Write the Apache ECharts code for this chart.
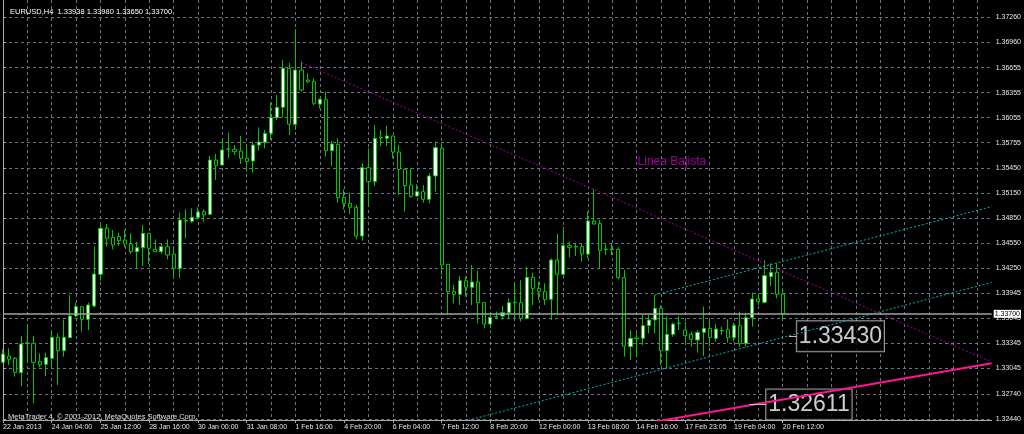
<!DOCTYPE html>
<html>
<head>
<meta charset="utf-8">
<script src="https://cdn.jsdelivr.net/npm/echarts@6/dist/echarts.min.js"></script>
<style>
html,body{margin:0;padding:0;background:#000;}
#chart{width:1024px;height:434px;}
</style>
</head>
<body>
<div id="chart"></div>
<script>
const symbol = 'EURUSD';
const timeframe = 'H4';

const timeLabels = ['22 Jan 2013','24 Jan 04:00','25 Jan 12:00','28 Jan 16:00','30 Jan 00:00','31 Jan 08:00',
  '1 Feb 16:00','4 Feb 20:00','6 Feb 04:00','7 Feb 12:00','8 Feb 20:00','12 Feb 00:00','13 Feb 08:00',
  '14 Feb 16:00','17 Feb 23:05','19 Feb 04:00','20 Feb 12:00'];

const priceTicks = [1.37260,1.36960,1.36655,1.36355,1.36055,1.35755,1.35450,1.35150,1.34850,
  1.34550,1.34250,1.33945,1.33645,1.33345,1.33045,1.32740,1.32440];

const open = [1.33118,1.33194,1.33166,1.32994,1.33344,1.33346,1.33126,1.33094,1.33166,1.33418,
1.33258,1.33414,1.33674,1.33786,1.33634,1.33794,1.34174,1.34726,1.34618,1.34626,
1.34586,1.34538,1.34446,1.34494,1.34666,1.34474,1.34446,1.34506,1.34418,1.34246,
1.34814,1.34810,1.34858,1.34926,1.34894,1.35546,1.35486,1.35674,1.35674,1.35654,
1.35566,1.35534,1.35726,1.35758,1.35866,1.36054,1.36178,1.36646,1.35974,1.36626,
1.36506,1.36486,1.36218,1.36274,1.35658,1.35734,1.35098,1.35026,1.34978,1.34634,
1.35454,1.35286,1.35810,1.35806,1.35834,1.35642,1.35434,1.35246,1.35114,1.35166,
1.35074,1.35354,1.35686,1.34294,1.33966,1.33934,1.34098,1.34018,1.34082,1.33834,
1.33578,1.33662,1.33674,1.33714,1.33834,1.33834,1.33646,1.34138,1.34006,1.33966,
1.33874,1.34346,1.34174,1.34518,1.34503,1.34506,1.34418,1.34814,1.34786,1.34472,
1.34470,1.34474,1.34134,1.33306,1.33404,1.33406,1.33558,1.33626,1.33766,1.33258,
1.33454,1.33584,1.33506,1.33454,1.33386,1.33478,1.33526,1.33406,1.33495,1.33514,
1.33418,1.33558,1.33346,1.33654,1.33878,1.33838,1.34146,1.34198,1.33938];

const high = [1.33274,1.33286,1.33182,1.33434,1.33546,1.33434,1.33226,1.33234,1.33486,1.33466,
1.33634,1.33926,1.33834,1.33790,1.33834,1.34506,1.34778,1.34778,1.34706,1.34674,
1.34706,1.34666,1.34566,1.34766,1.34670,1.34594,1.34538,1.34594,1.34486,1.34914,
1.34954,1.34966,1.34978,1.34954,1.35594,1.35618,1.35786,1.35874,1.35726,1.35834,
1.35706,1.35766,1.35938,1.35906,1.36234,1.36326,1.36746,1.36714,1.37114,1.36726,
1.36586,1.36526,1.36284,1.36366,1.35778,1.35806,1.35194,1.35154,1.35006,1.35506,
1.35686,1.35966,1.35906,1.35954,1.35840,1.35726,1.35446,1.35446,1.35254,1.35246,
1.35386,1.35766,1.35746,1.34298,1.34046,1.34154,1.34146,1.34286,1.34218,1.33836,
1.33706,1.33726,1.33794,1.33886,1.34046,1.34106,1.34266,1.34194,1.34086,1.34066,
1.34366,1.34658,1.34746,1.34566,1.34546,1.34538,1.34926,1.35194,1.34826,1.34538,
1.34538,1.34498,1.34226,1.33506,1.33466,1.33686,1.33686,1.33926,1.33806,1.33666,
1.33594,1.33674,1.33606,1.33486,1.33506,1.33786,1.33626,1.33578,1.33546,1.33634,
1.33594,1.33726,1.33714,1.33954,1.33946,1.34346,1.34306,1.34306,1.33980];

const low = [1.33106,1.33086,1.32946,1.32834,1.33146,1.32626,1.33058,1.32954,1.33046,1.32846,
1.33186,1.33410,1.33666,1.33486,1.33506,1.33778,1.34098,1.34506,1.34474,1.34514,
1.34498,1.34418,1.34250,1.34274,1.34298,1.34440,1.34418,1.34354,1.34126,1.34126,
1.34606,1.34794,1.34834,1.34806,1.34886,1.35306,1.35474,1.35566,1.35606,1.35498,
1.35406,1.35394,1.35658,1.35686,1.35786,1.36026,1.36058,1.35846,1.35906,1.36366,
1.36466,1.36206,1.36166,1.35586,1.35474,1.35034,1.34954,1.34898,1.34594,1.34578,
1.35006,1.35234,1.35714,1.35714,1.35566,1.35126,1.34926,1.35094,1.35106,1.35034,
1.35026,1.35166,1.34166,1.33686,1.33826,1.33806,1.33906,1.33806,1.33586,1.33526,
1.33526,1.33634,1.33634,1.33646,1.33646,1.33606,1.33634,1.33806,1.33866,1.33806,
1.33626,1.33686,1.34154,1.34378,1.34394,1.34326,1.34366,1.34772,1.34246,1.34406,
1.34406,1.34114,1.33186,1.33146,1.33186,1.33326,1.33466,1.33466,1.33086,1.33046,
1.33426,1.33506,1.33346,1.33306,1.33234,1.33194,1.33306,1.33366,1.33446,1.33354,
1.33366,1.33306,1.33306,1.33546,1.33806,1.33826,1.34034,1.33886,1.33650];

const close = [1.33218,1.33154,1.32998,1.33338,1.33352,1.33118,1.33086,1.33174,1.33418,1.33258,
1.33418,1.33674,1.33786,1.33634,1.33806,1.34178,1.34726,1.34606,1.34526,1.34578,
1.34538,1.34446,1.34494,1.34666,1.34486,1.34446,1.34506,1.34406,1.34246,1.34826,
1.34822,1.34858,1.34922,1.34886,1.35546,1.35478,1.35666,1.35678,1.35646,1.35566,
1.35530,1.35726,1.35762,1.35866,1.36054,1.36178,1.36646,1.35974,1.36626,1.36386,
1.36486,1.36226,1.36274,1.35658,1.35738,1.35094,1.35026,1.34978,1.34634,1.35454,
1.35286,1.35806,1.35816,1.35834,1.35642,1.35434,1.35238,1.35106,1.35166,1.35074,
1.35354,1.35694,1.34286,1.33966,1.33934,1.34098,1.34018,1.34082,1.33834,1.33578,
1.33658,1.33668,1.33714,1.33834,1.33838,1.33646,1.34138,1.34006,1.33966,1.33874,
1.34346,1.34174,1.34518,1.34498,1.34508,1.34418,1.34814,1.34778,1.34458,1.34477,
1.34476,1.34136,1.33314,1.33406,1.33409,1.33558,1.33626,1.33766,1.33258,1.33454,
1.33578,1.33589,1.33438,1.33394,1.33478,1.33526,1.33418,1.33518,1.33500,1.33418,
1.33558,1.33346,1.33654,1.33878,1.33846,1.34158,1.34198,1.33934,1.33700];

// trend lines: [barIndex, price]
const bearLine = [[49, 1.36714], [162.3, 1.33122]];
const channelUpper = [[107, 1.33926], [162.3, 1.34987]];
const channelLower = [[70, 1.32300], [162.3, 1.34077]];
const supportLine = [[100, 1.32316], [162.3, 1.33107]];
const bearLineText = [[104, 1.35520]];
const priceLabelBars = [129, 122.5];
const priceLabelValues = [1.33430, 1.32611];

const lastBars = 162.3;
const FONT = 'Liberation Sans, Arial, sans-serif';

const candles = open.map((o, i) => [i, o, close[i], low[i], high[i]]);
const labelTickBars = timeLabels.map((_, k) => k * 8);
const gridTickBars = [];
for (let b = 0; b <= 160; b += 4) gridTickBars.push(b);
const n = open.length - 1;
const gridStyle = {color: '#6b7682', type: [3, 3], width: 1};

const chart = echarts.init(document.getElementById('chart'), null, {renderer: 'canvas'});
chart.setOption({
  backgroundColor: '#000000',
  animation: false,
  title: [
    {
      text: symbol + ',' + timeframe + '  ' + open[n].toFixed(5) + ' ' + high[n].toFixed(5) + ' ' +
            low[n].toFixed(5) + ' ' + close[n].toFixed(5),
      left: 5, top: 3,
      textStyle: {color: '#ffffff', fontSize: 7.5, fontWeight: 'normal', fontFamily: FONT}
    },
    {
      text: 'MetaTrader 4, \u00a9 2001-2012, MetaQuotes Software Corp.',
      left: 3, top: 408,
      textStyle: {color: '#e0e0e0', fontSize: 7.5, fontWeight: 'normal', fontFamily: FONT}
    }
  ],
  grid: {left: 2, top: 0, right: 31.3, bottom: 14, containLabel: false},
  xAxis: [
    {
      type: 'value', min: 0, max: lastBars, interval: 4, position: 'bottom',
      axisLine: {show: true, lineStyle: {color: '#a9a9a9', width: 1}},
      axisTick: {show: false, customValues: gridTickBars},
      axisLabel: {show: false},
      splitLine: {show: true, lineStyle: gridStyle}
    },
    {
      type: 'value', min: 0, max: lastBars, position: 'bottom',
      axisLine: {show: false},
      axisTick: {show: true, length: 3, customValues: labelTickBars, lineStyle: {color: '#a9a9a9'}},
      axisLabel: {
        show: true, customValues: labelTickBars, align: 'left', margin: 4,
        color: '#e8e8e8', fontSize: 7, fontFamily: FONT,
        formatter: v => timeLabels[Math.round(v / 8)] || ''
      },
      splitLine: {show: false}
    }
  ],
  yAxis: [
    {
      type: 'value', position: 'right', min: 1.32426, max: 1.37466, scale: true,
      axisLine: {show: true, lineStyle: {color: '#a9a9a9', width: 1}},
      axisTick: {show: true, length: 3, customValues: priceTicks, lineStyle: {color: '#a9a9a9'}},
      axisLabel: {
        show: true, customValues: priceTicks, margin: 4, color: '#e8e8e8', fontSize: 7, fontFamily: FONT,
        formatter: v => v.toFixed(5)
      },
      splitLine: {show: true, lineStyle: gridStyle}
    },
    {
      type: 'value', position: 'left', min: 1.32426, max: 1.37466,
      axisLine: {show: true, onZero: false, lineStyle: {color: '#a9a9a9', width: 1}},
      axisTick: {show: false}, axisLabel: {show: false}, splitLine: {show: false}
    }
  ],
  series: [
    {
      type: 'candlestick',
      xAxisIndex: 0, yAxisIndex: 0,
      data: candles,
      encode: {x: 0, y: [1, 2, 3, 4]},
      barWidth: 3.6,
      clip: false,
      silent: true,
      itemStyle: {color: '#ffffff', color0: '#000000', borderColor: '#00c800', borderColor0: '#00c800', borderWidth: 1},
      emphasis: {disabled: true}
    },
    {
      type: 'line', data: bearLine, symbol: 'none', silent: true,
      lineStyle: {color: '#a000a0', width: 1, type: [2, 2]},
      markLine: {
        silent: true, symbol: ['none', 'none'], animation: false, precision: 5,
        data: [{yAxis: close[n]}],
        lineStyle: {color: '#a0a0a0', width: 1.5, type: 'solid'},
        label: {
          show: true, position: 'end', distance: 2,
          formatter: p => Number(p.value).toFixed(5),
          color: '#000000', backgroundColor: '#ffffff', fontSize: 7, fontFamily: FONT,
          padding: [1, 1, 0, 1]
        }
      }
    },
    {
      type: 'line', data: channelUpper, symbol: 'none', silent: true,
      lineStyle: {color: '#00b4b4', width: 1, type: [2, 2]}
    },
    {
      type: 'line', data: channelLower, symbol: 'none', silent: true,
      lineStyle: {color: '#00b4b4', width: 1, type: [2, 2]}
    },
    {
      type: 'line', data: supportLine, symbol: 'none', silent: true,
      lineStyle: {color: '#ff1493', width: 2, type: 'solid'}
    },
    {
      type: 'scatter', data: bearLineText, symbolSize: 0, silent: true,
      label: {
        show: true, position: 'right', distance: 1, formatter: 'Linea Bajista',
        color: '#c800c8', fontSize: 12, fontFamily: FONT
      }
    },
    {
      type: 'scatter', symbolSize: 0, silent: true,
      data: priceLabelBars.map((b, k) => ({value: [b, priceLabelValues[k]], label: {distance: k === 0 ? 8 : 17}})),
      label: {
        show: true, position: 'right',
        formatter: p => p.value[1].toFixed(5),
        color: '#ffffff', backgroundColor: '#000000', borderColor: '#c0c0c0', borderWidth: 1,
        fontSize: 23, lineHeight: 24, padding: [3, 2, 3, 2], fontFamily: FONT
      },
      markLine: {
        silent: true, symbol: ['none', 'none'], animation: false, label: {show: false}, precision: 5,
        lineStyle: {color: '#c0c0c0', width: 1, type: 'solid'},
        data: priceLabelBars.map((b, k) => [
          {coord: [b, priceLabelValues[k]]},
          {coord: [b + (k === 0 ? 1.3 : 2.8), priceLabelValues[k]]}
        ])
      }
    }
  ]
});
</script>
</body>
</html>
